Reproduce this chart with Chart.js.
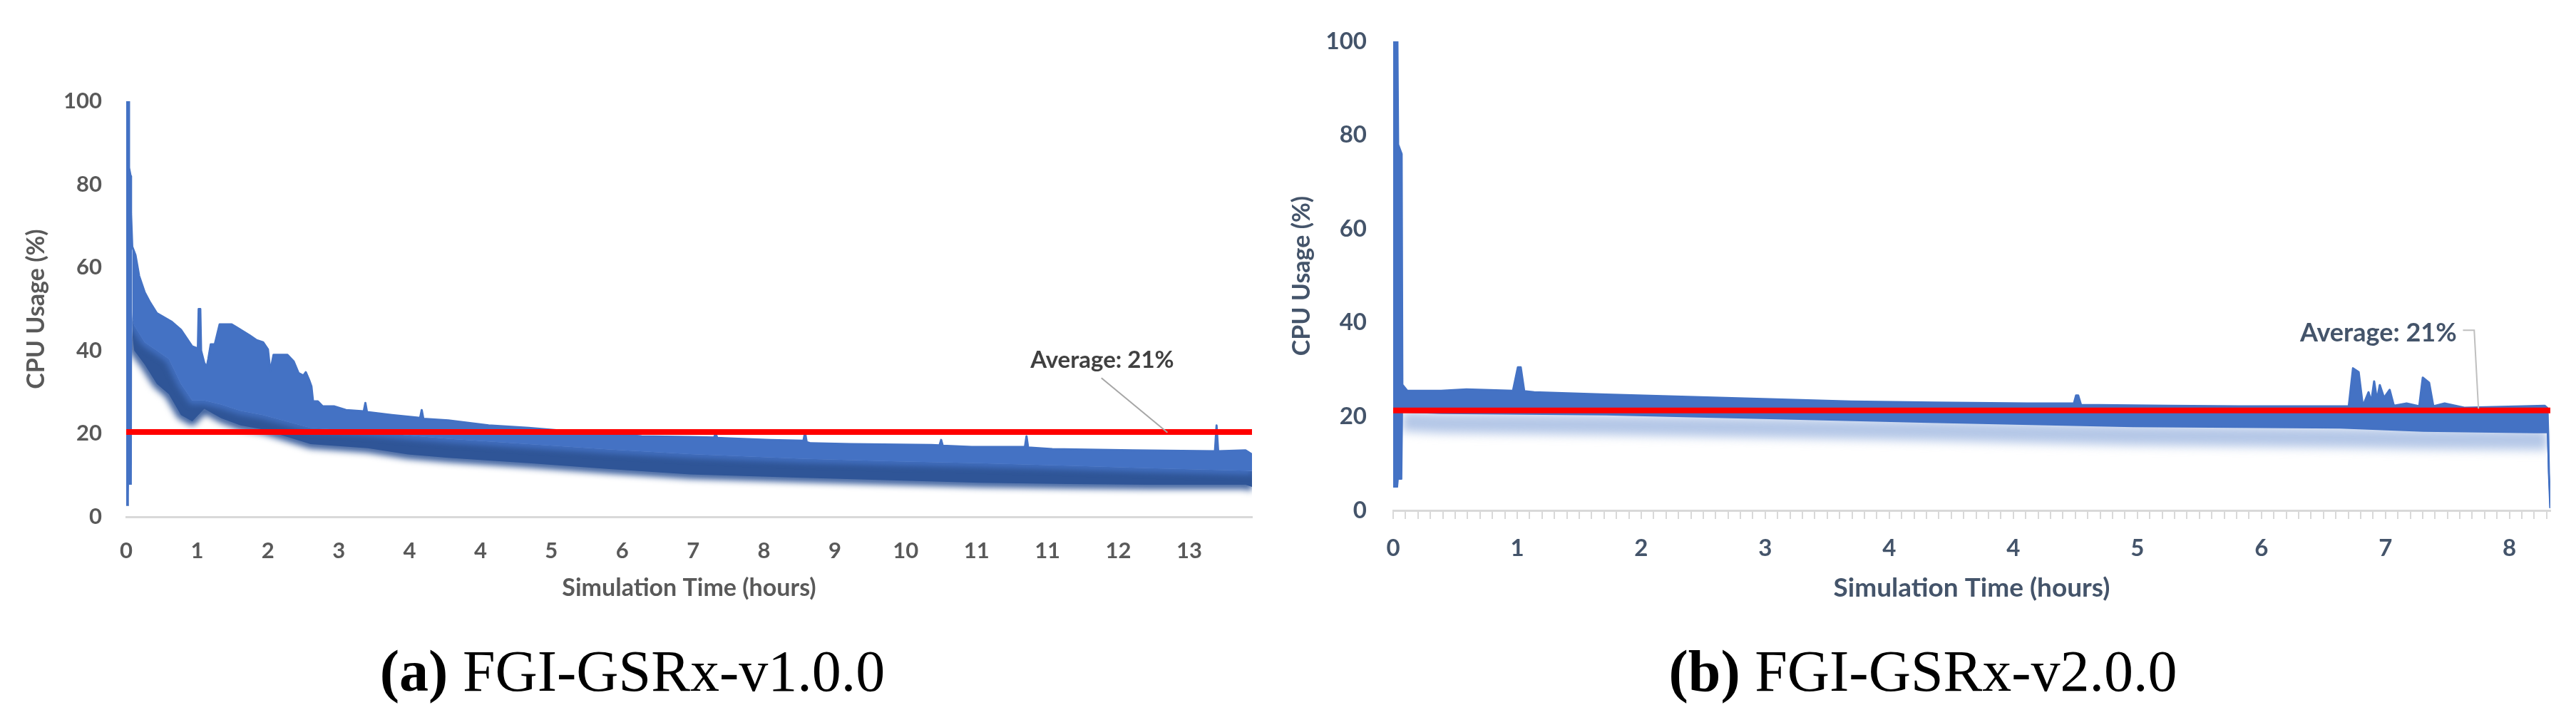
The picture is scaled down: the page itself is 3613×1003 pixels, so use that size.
<!DOCTYPE html>
<html>
<head>
<meta charset="utf-8">
<script src="https://cdn.jsdelivr.net/npm/chart.js@4.4.1/dist/chart.umd.min.js"></script>
<style>
  html, body { margin: 0; padding: 0; background: #fff; }
  body { width: 3613px; height: 1003px; position: relative; overflow: hidden; }
  .panel { position: absolute; top: 0; height: 870px; }
  #panelA { left: 0; width: 1790px; }
  #panelB { left: 1790px; width: 1823px; }
  .caption {
    position: absolute; top: 901px; transform: translateX(-50%);
    font-family: "Liberation Serif", serif; font-size: 82px; line-height: 82px;
    white-space: nowrap; color: #000;
  }
</style>
</head>
<body>
<div class="panel" id="panelA"><canvas id="cpuA"></canvas></div>
<div class="panel" id="panelB"><canvas id="cpuB"></canvas></div>
<div class="caption" style="left:887px"><b>(a)</b> FGI-GSRx-v1.0.0</div>
<div class="caption" style="left:2697px"><b>(b)</b> FGI-GSRx-v2.0.0</div>
<script>
// (a) FGI-GSRx-v1.0.0 : envelope of the CPU trace (hours, %)
const topHoursA = [0, 0.03, 0.035, 0.055, 0.06, 0.075, 0.115, 0.16, 0.23, 0.29, 0.38, 0.56, 0.68, 0.82, 0.89, 0.9, 0.92, 0.93, 0.97, 1.0, 1.02, 1.05, 1.1, 1.16, 1.31, 1.38, 1.53, 1.62, 1.7, 1.76, 1.79, 1.83, 2.0, 2.08, 2.14, 2.2, 2.23, 2.27, 2.3, 2.32, 2.38, 2.44, 2.58, 2.73, 2.95, 2.97, 2.99, 3.3, 3.65, 3.67, 3.69, 4.0, 4.5, 5.0, 5.5, 6.0, 6.4, 7.0, 7.3, 7.32, 7.34, 7.43, 8.0, 8.41, 8.43, 8.45, 8.5, 9.0, 10.0, 10.1, 10.12, 10.14, 10.5, 11.16, 11.18, 11.2, 11.5, 12.5, 13.52, 13.54, 13.56, 13.9, 13.98];
const topA = [100, 100, 84, 82, 73, 65, 63, 58, 54, 51.8, 49, 47, 45, 41, 40.5, 50, 50, 40, 37, 36, 38, 41.5, 41.5, 46.3, 46.3, 45.5, 43.7, 42.5, 42, 40.3, 35, 39, 39, 37.4, 34.6, 34, 34.8, 33, 31.4, 27.8, 27.8, 26.6, 26.6, 25.7, 25.4, 27.4, 25.2, 24.5, 23.8, 25.7, 23.6, 23.2, 22, 21.4, 20.6, 20, 19.4, 19.2, 19.1, 20, 19, 18.9, 18.5, 18.3, 20.3, 18, 17.7, 17.5, 17.3, 17.2, 18.5, 17.1, 16.8, 16.8, 19.4, 16.7, 16.3, 16, 15.8, 22, 15.8, 16, 15];
// lighter part of the trace ends at midA, darker part goes down to lowA
const midHoursA = [0, 0.03, 0.035, 0.07, 0.075, 0.1, 0.23, 0.38, 0.53, 0.68, 0.82, 0.97, 1.18, 1.42, 1.7, 2.29, 3.0, 3.5, 4.0, 5.0, 6.0, 7.0, 8.4, 9.5, 10.6, 11.7, 12.7, 13.9, 13.98];
const midA = [2.6, 2.6, 7.7, 7.7, 48, 46, 42, 40, 38, 32, 28, 28, 27, 25.5, 24.5, 21.4, 20.5, 19.6, 18.8, 17.5, 16.2, 15.1, 14, 13.4, 12.9, 12.3, 11.7, 11.1, 11];
const lowA = [2.6, 2.6, 7.7, 7.7, 44, 40, 36.6, 32, 29.5, 24.5, 23, 26, 23.7, 22, 21, 17.5, 16.5, 15, 14.2, 12.9, 11.5, 10.2, 9.4, 8.8, 8.2, 7.9, 7.7, 7.7, 7.2];
const averageA = 20.4;
const xEndA = 13.98;
const tickStepA = 0.88;
const tickLabelsA = ["0", "1", "2", "3", "4", "4", "5", "6", "7", "8", "9", "10", "11", "11", "12", "13"];

// (b) FGI-GSRx-v2.0.0
const topHoursB = [0, 0.03, 0.035, 0.06, 0.065, 0.1, 0.34, 0.52, 0.85, 0.885, 0.905, 0.93, 1.0, 1.51, 2.09, 2.67, 3.25, 3.84, 4.5, 4.83, 4.845, 4.86, 4.88, 5.5, 6.0, 6.78, 6.81, 6.85, 6.88, 6.92, 6.94, 6.96, 6.98, 7.0, 7.03, 7.07, 7.1, 7.19, 7.28, 7.305, 7.35, 7.38, 7.46, 7.6, 8.17, 8.19, 8.2, 8.21];
const topB = [100, 100, 78, 76, 26.8, 25.5, 25.5, 25.8, 25.5, 30.5, 30.5, 25.4, 25.2, 24.7, 24.2, 23.7, 23.2, 23, 22.8, 22.8, 24.5, 24.5, 22.5, 22.3, 22.2, 22.2, 30.3, 29.5, 22.2, 25.2, 23.2, 27.5, 23.5, 26.7, 24, 25.7, 22.3, 22.8, 22.2, 28.3, 27.2, 22.2, 22.8, 21.9, 22.3, 21.8, 8, 0.5];
const botHoursB = [0, 0.03, 0.035, 0.06, 0.065, 0.34, 1.51, 2.67, 3.8, 5.25, 6.72, 7.31, 8.1, 8.19, 8.2, 8.21];
const botB = [5, 5, 6.7, 6.7, 21, 20.7, 20.4, 19.6, 18.8, 17.9, 17.6, 16.9, 16.6, 16.6, 7.5, 0.5];
// centre of the pale shadow under the trace
const shadowHoursB = [0.065, 0.34, 1.51, 2.67, 3.8, 5.25, 6.72, 7.31, 8.1, 8.19];
const shadowB = [19, 18.6, 18.2, 17.6, 17, 16, 15.5, 15.2, 15, 15];
const averageB = 21.3;
const xEndB = 8.21;
const tickStepB = 0.88;
const minorPerStepB = 10;
const tickLabelsB = ["0", "1", "2", "3", "4", "4", "5", "6", "7", "8"];

const averageLabel = 21;

const BLUE = '#4472C4';
const DARK_A = '#2F5597';
const SHADOW_B = '#B4C7E7';
const GREY_A = '#595959';
const SLATE_B = '#44546A';

Chart.defaults.font.family = "Lato, 'Open Sans', sans-serif";

function pts(hours, values) {
  return hours.map((h, i) => ({ x: h, y: values[i] }));
}

// blur the stroke of datasets that ask for it
const blurStroke = {
  id: 'blurStroke',
  beforeDatasetDraw(chart, args) {
    const r = chart.data.datasets[args.index].blur;
    if (r) {
      chart.ctx.save();
      chart.ctx.filter = 'blur(' + r + 'px)';
    }
  },
  afterDatasetDraw(chart, args) {
    if (chart.data.datasets[args.index].blur) chart.ctx.restore();
  }
};

// "Average: 21%" label with its leader line
const averageNote = {
  id: 'averageNote',
  afterDatasetsDraw(chart, args, opts) {
    const { ctx, scales: { x, y } } = chart;
    ctx.save();
    ctx.strokeStyle = opts.lineColor;
    ctx.lineWidth = 2;
    ctx.beginPath();
    opts.leader.forEach(([h, v], i) => {
      const px = x.getPixelForValue(h), py = y.getPixelForValue(v);
      if (i) ctx.lineTo(px, py); else ctx.moveTo(px, py);
    });
    ctx.stroke();
    ctx.fillStyle = opts.color;
    ctx.font = opts.font;
    ctx.textAlign = 'center';
    ctx.textBaseline = 'middle';
    ctx.fillText('Average: ' + averageLabel + '%', x.getPixelForValue(opts.at[0]), y.getPixelForValue(opts.at[1]));
    ctx.restore();
  }
};

const common = {
  responsive: true,
  maintainAspectRatio: false,
  animation: false,
  devicePixelRatio: 1,
  events: [],
  elements: {
    point: { radius: 0 },
    line: { tension: 0, borderJoinStyle: 'round' }
  }
};

new Chart(document.getElementById('cpuA'), {
  type: 'line',
  data: {
    datasets: [
      { data: pts([0, xEndA], [averageA, averageA]), borderColor: '#FF0000', borderWidth: 8, order: 0 },
      { data: pts(topHoursA, topA), borderColor: BLUE, borderWidth: 3, backgroundColor: BLUE, fill: 2, order: 1 },
      {
        data: pts(midHoursA, midA), borderColor: BLUE, borderWidth: 10, blur: 4, backgroundColor: DARK_A, fill: 3, order: 2,
        segment: { borderColor: ctx => (ctx.p1.parsed.x <= 0.075 ? 'transparent' : BLUE) }
      },
      {
        data: pts(midHoursA, lowA), borderColor: DARK_A, borderWidth: 12, blur: 5, order: 3,
        segment: { borderColor: ctx => (ctx.p1.parsed.x <= 0.075 ? 'transparent' : DARK_A) }
      }
    ]
  },
  options: {
    ...common,
    layout: { padding: { top: 142, right: 34, left: 0, bottom: 0 } },
    plugins: {
      legend: { display: false },
      tooltip: { enabled: false },
      averageNote: {
        at: [12.12, 37.7],
        leader: [[12.11, 33.4], [12.93, 20.3]],
        lineColor: '#A6A6A6',
        color: '#404040',
        font: "bold 33px Lato, 'Open Sans', sans-serif"
      }
    },
    scales: {
      x: {
        type: 'linear', min: 0, max: xEndA,
        afterBuildTicks: s => { s.ticks = tickLabelsA.map((_, i) => ({ value: i * tickStepA })); },
        afterFit: s => { s.height = 145; },
        grid: { display: false, drawTicks: false },
        border: { display: true, color: '#D9D9D9', width: 3 },
        ticks: {
          callback: (v, i) => tickLabelsA[i],
          autoSkip: false, maxRotation: 0, minRotation: 0, padding: 29,
          color: GREY_A, font: { size: 31, weight: 'bold' }
        },
        title: {
          display: true, text: 'Simulation Time (hours)', color: GREY_A,
          font: { size: 34, weight: 'bold' }, padding: { top: 25, bottom: 25 }
        }
      },
      y: {
        min: 0, max: 100,
        afterFit: s => { s.width = 177; },
        grid: { display: false, drawTicks: false },
        border: { display: false },
        ticks: { stepSize: 20, padding: 34, color: GREY_A, font: { size: 31, weight: 'bold' } },
        title: {
          display: true, text: 'CPU Usage (%)', color: GREY_A,
          font: { size: 34, weight: 'bold' }, padding: { top: 31, bottom: 0 }
        }
      }
    }
  },
  plugins: [blurStroke, averageNote]
});

new Chart(document.getElementById('cpuB'), {
  type: 'line',
  data: {
    datasets: [
      { data: pts([0, xEndB], [averageB, averageB]), borderColor: '#FF0000', borderWidth: 8, order: 0 },
      { data: pts(topHoursB, topB), borderColor: BLUE, borderWidth: 3, backgroundColor: BLUE, fill: 2, order: 1 },
      { data: pts(botHoursB, botB), borderColor: BLUE, borderWidth: 2, order: 2 },
      { data: pts(shadowHoursB, shadowB), borderColor: SHADOW_B, borderWidth: 28, blur: 7, order: 3 }
    ]
  },
  options: {
    ...common,
    layout: { padding: { top: 58, right: 36, left: 0, bottom: 0 } },
    plugins: {
      legend: { display: false },
      tooltip: { enabled: false },
      averageNote: {
        at: [6.99, 37.8],
        leader: [[7.59, 38.4], [7.67, 38.4], [7.70, 21.7]],
        lineColor: '#BFBFBF',
        color: SLATE_B,
        font: "bold 36px Lato, 'Open Sans', sans-serif"
      }
    },
    scales: {
      x: {
        type: 'linear', min: 0, max: xEndB,
        afterBuildTicks: s => {
          const n = (tickLabelsB.length - 1) * minorPerStepB + 4;
          s.ticks = Array.from({ length: n }, (_, i) => ({ value: i * tickStepB / minorPerStepB }));
        },
        afterFit: s => { s.height = 154; },
        grid: { display: true, drawOnChartArea: false, drawTicks: true, tickLength: 12, color: '#D9D9D9', lineWidth: 2 },
        border: { display: true, color: '#D9D9D9', width: 3 },
        ticks: {
          callback: (v, i) => (i % minorPerStepB === 0 ? tickLabelsB[i / minorPerStepB] : ''),
          autoSkip: false, maxRotation: 0, minRotation: 0, padding: 22,
          color: SLATE_B, font: { size: 33, weight: 'bold' }
        },
        title: {
          display: true, text: 'Simulation Time (hours)', color: SLATE_B,
          font: { size: 37, weight: 'bold' }, padding: { top: 23, bottom: 23 }
        }
      },
      y: {
        min: 0, max: 100,
        afterFit: s => { s.width = 164; },
        grid: { display: false, drawTicks: false },
        border: { display: false },
        ticks: { stepSize: 20, padding: 37, color: SLATE_B, font: { size: 33, weight: 'bold' } },
        title: {
          display: true, text: 'CPU Usage (%)', color: SLATE_B,
          font: { size: 34, weight: 'bold' }, padding: { top: 16, bottom: 0 }
        }
      }
    }
  },
  plugins: [blurStroke, averageNote]
});
</script>
</body>
</html>
